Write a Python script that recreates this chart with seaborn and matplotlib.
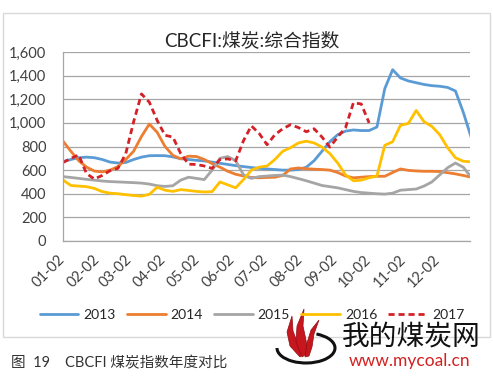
import numpy as np
import pandas as pd
import matplotlib
matplotlib.use('Agg')
import matplotlib.pyplot as plt
import matplotlib.ticker as mticker
from matplotlib.patches import Rectangle, Arc, Polygon
import seaborn as sns

# weekly readings, starting 01-02
dates = pd.date_range('2017-01-02', periods=53, freq='7D')

y2013 = [672, 690, 705, 710, 705, 690, 668, 660, 665, 690, 710, 722, 723, 722, 712, 697,
         690, 683, 678, 668, 658, 648, 638, 630, 622, 615, 610, 605, 600, 600, 605, 625,
         680, 760, 840, 900, 930, 940, 935, 935, 965, 1290, 1450, 1380, 1355, 1340, 1325,
         1315, 1310, 1300, 1270, 1090, 880]
y2014 = [845, 760, 680, 625, 592, 585, 600, 630, 690, 760, 885, 990, 920, 800, 725, 695,
         718, 715, 690, 655, 625, 590, 565, 550, 538, 535, 538, 540, 555, 610, 618, 612,
         608, 605, 600, 580, 550, 535, 540, 545, 548, 548, 580, 610, 598, 593, 590, 590,
         588, 578, 568, 555, 540]
y2015 = [545, 538, 530, 522, 515, 508, 503, 500, 497, 494, 490, 482, 468, 462, 468, 515,
         540, 530, 520, 600, 700, 715, 680, 560, 530, 545, 550, 555, 558, 545, 528, 510,
         490, 470, 460, 450, 435, 420, 410, 405, 400, 397, 405, 430, 435, 440, 465, 500,
         560, 620, 660, 625, 540]
y2016 = [516, 470, 465, 460, 445, 418, 405, 400, 392, 385, 380, 395, 455, 430, 420, 435,
         428, 420, 415, 418, 500, 475, 450, 520, 600, 625, 635, 690, 760, 790, 830, 845,
         830, 795, 740, 660, 560, 510, 515, 535, 550, 810, 840, 980, 995, 1105, 1010, 970,
         900, 790, 705, 675, 670]
y2017 = [664, 700, 728, 570, 525, 555, 595, 615, 740, 1010, 1245, 1175, 1020, 895, 880, 740,
         650, 648, 635, 615, 690, 695, 678, 850, 975, 910, 815, 900, 950, 985, 960, 925,
         950, 880, 795, 880, 960, 1170, 1160, 1000] + [np.nan] * 13

years = ['2013', '2014', '2015', '2016', '2017']
series = [y2013, y2014, y2015, y2016, y2017]
colors = ['#5B9BD5', '#ED7D31', '#A5A5A5', '#FFC000', '#D42027']

tick_dates = [pd.Timestamp(2017, m, 2) for m in range(1, 13)]
tick_labels = ['01-02', '02-02', '03-02', '04-02', '05-02', '06-02',
               '07-02', '08-02', '09-02', '10-02', '11-02', '12-02']

sns.set_style('white')
plt.rcParams['font.family'] = ['Lato', 'Noto Sans CJK SC', 'DejaVu Sans']

fig = plt.figure(figsize=(4.93, 3.82), dpi=100)
ax = fig.add_axes([63 / 493, 141 / 382, 407 / 493, 189 / 382])

for i, (yr, vals) in enumerate(zip(years, series)):
    df = pd.DataFrame({'date': dates, 'value': vals})
    ls = (0, (2.2, 1.4)) if yr == '2017' else '-'
    sns.lineplot(x='date', y='value', data=df, ax=ax, color=colors[i],
                 linewidth=2.0, linestyle=ls, label=yr)

ax.set_xlim(pd.Timestamp('2017-01-02'), pd.Timestamp('2017-12-31'))
ax.set_ylim(0, 1600)
ax.set_yticks(range(0, 1601, 200))
ax.yaxis.set_major_formatter(mticker.FuncFormatter(lambda v, p: f'{v:,.0f}'))
ax.set_xticks(tick_dates)
ax.set_xticklabels(tick_labels, rotation=45, ha='right', va='center',
                   rotation_mode='anchor')
ax.set_xlabel('')
ax.set_ylabel('')

ax.yaxis.grid(True, color='#A6A6A6', linewidth=0.9)
ax.set_axisbelow(True)
for s in ['top', 'right']:
    ax.spines[s].set_visible(False)
for s in ['left', 'bottom']:
    ax.spines[s].set_color('#A6A6A6')
    ax.spines[s].set_linewidth(0.9)
ax.tick_params(axis='x', length=5, width=0.9, color='#A6A6A6', direction='out',
               pad=7, labelsize=10.5, labelcolor='#404040')
ax.tick_params(axis='y', length=3, width=0.9, color='#A6A6A6', direction='out',
               pad=9, labelsize=10.5, labelcolor='#404040')
ax.get_legend().remove()

handles, labels = ax.get_legend_handles_labels()
fig.legend(handles, labels, loc='center', bbox_to_anchor=(252 / 493, 1 - 315 / 382),
           ncol=5, frameon=False, handlelength=2.8, columnspacing=0.8,
           handletextpad=0.35, fontsize=10, labelcolor='#262626')

# outer chart frame
fig.patches.append(Rectangle((3 / 493, 45 / 382), 487 / 493, 324 / 382,
                             transform=fig.transFigure, fill=False,
                             edgecolor='#D9D9D9', linewidth=1))

fig.text(252 / 493, 1 - 40 / 382, 'CBCFI:煤炭:综合指数', ha='center', va='center',
         fontsize=13.5, color='#262626')
fig.text(11 / 493, 1 - 363 / 382, '图  19    CBCFI 煤炭指数年度对比', ha='left',
         va='center', fontsize=10.5, color='#333333')

# watermark
def px(x, y):
    return (x / 493, 1 - y / 382)

fig.patches.append(Arc(px(306, 348), 58 / 493, 30 / 382, theta1=180, theta2=420,
                       transform=fig.transFigure, color='#111111', linewidth=2.2))
flames = [
    [(300, 357), (290, 346), (287, 332), (292, 316), (293, 331), (298, 344), (303, 353)],
    [(302, 357), (296, 342), (297, 326), (304, 309), (303, 326), (306, 340), (308, 353)],
    [(305, 357), (307, 343), (311, 330), (319, 320), (314, 334), (312, 347), (309, 356)],
]
for pts in flames:
    fig.patches.append(Polygon([px(x, y) for x, y in pts], closed=True,
                               transform=fig.transFigure, facecolor='#C8161E',
                               edgecolor='#8E0E12', linewidth=0.5))
fig.text(411 / 493, 1 - 336 / 382, '我的煤炭网', ha='center', va='center',
         fontsize=20, color='#111111', family=['Noto Sans CJK SC'])
fig.text(410 / 493, 1 - 361 / 382, 'www.mycoal.cn', ha='center', va='center',
         fontsize=12.5, color='#D42020')

fig.savefig('out.png', dpi=100)
